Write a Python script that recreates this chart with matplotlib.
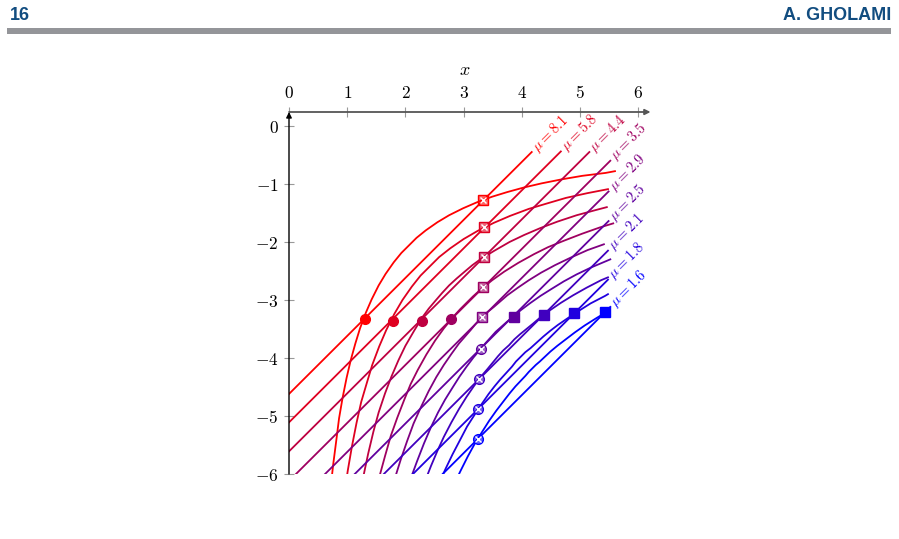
import numpy as np
import matplotlib
matplotlib.use("Agg")
import matplotlib.pyplot as plt
from matplotlib.patches import Rectangle

plt.rcParams['mathtext.fontset'] = 'cm'

mu_values = [8.1, 5.8, 4.4, 3.5, 2.9, 2.5, 2.1, 1.8, 1.6]

# straight lines (start / end points)
line_x0 = [0.0, 0.0, 0.0, 0.12, 0.62, 1.13, 1.63, 2.13, 2.64]
line_y0 = [-4.62, -5.11, -5.61, -6.0, -6.0, -6.0, -6.0, -6.0, -6.0]
line_x1 = [4.17, 4.67, 5.16, 5.52, 5.49, 5.49, 5.48, 5.48, 5.52]
line_y1 = [-0.45, -0.44, -0.45, -0.60, -1.13, -1.64, -2.15, -2.65, -3.12]

# curved branches
curve_x = [
    [0.71, 0.76, 0.81, 0.86, 0.92, 0.99, 1.06, 1.14, 1.22, 1.32, 1.42, 1.54, 1.66, 1.80, 1.93,
     2.06, 2.19, 2.35, 2.55, 2.75, 2.99, 3.22, 3.49, 3.75, 4.04, 4.34, 4.69, 5.04, 5.44, 5.60],
    [0.94, 1.01, 1.08, 1.16, 1.24, 1.34, 1.43, 1.55, 1.67, 1.81, 1.95, 2.11, 2.26,
     2.42, 2.58, 2.77, 3.00, 3.24, 3.52, 3.80, 4.12, 4.42, 4.76, 5.12, 5.48],
    [1.20, 1.28, 1.36, 1.45, 1.54, 1.65, 1.76, 1.88, 2.00, 2.15, 2.29, 2.40, 2.51, 2.63,
     2.75, 2.88, 3.02, 3.15, 3.30, 3.53, 3.79, 4.04, 4.32, 4.61, 4.94, 5.27, 5.46],
    [1.47, 1.56, 1.65, 1.75, 1.86, 1.98, 2.09, 2.21, 2.36, 2.51, 2.66, 2.84, 2.94,
     3.05, 3.16, 3.27, 3.49, 3.70, 3.94, 4.21, 4.45, 4.72, 5.03, 5.34, 5.57],
    [1.72, 1.82, 1.92, 2.03, 2.14, 2.27, 2.40, 2.53, 2.66, 2.79, 2.92, 3.12,
     3.21, 3.31, 3.41, 3.52, 3.75, 3.93, 4.12, 4.33, 4.57, 4.84, 5.13, 5.41],
    [1.99, 2.09, 2.20, 2.32, 2.44, 2.56, 2.68, 2.81, 2.93, 3.05, 3.17, 3.38,
     3.47, 3.55, 3.64, 3.74, 3.99, 4.15, 4.32, 4.51, 4.72, 4.94, 5.19, 5.52],
    [2.22, 2.33, 2.44, 2.55, 2.66, 2.79, 2.92, 3.05, 3.18, 3.29, 3.41, 3.59,
     3.68, 3.78, 3.87, 3.97, 4.19, 4.33, 4.48, 4.67, 4.88, 5.11, 5.36, 5.48],
    [2.46, 2.57, 2.69, 2.81, 2.93, 3.06, 3.20, 3.32, 3.43, 3.53, 3.63, 3.83,
     3.90, 3.98, 4.06, 4.15, 4.37, 4.49, 4.62, 4.78, 4.96, 5.18, 5.43, 5.48],
    [2.70, 2.82, 2.95, 3.07, 3.19, 3.32, 3.44, 3.56, 3.69, 3.79, 3.89, 4.06,
     4.12, 4.18, 4.24, 4.31, 4.49, 4.61, 4.74, 4.91, 5.08, 5.27, 5.50],
]
curve_y = [
    [-6.28, -5.83, -5.44, -5.04, -4.69, -4.34, -4.04, -3.75, -3.49, -3.22, -2.99, -2.75, -2.55, -2.35, -2.19,
     -2.06, -1.93, -1.80, -1.66, -1.54, -1.42, -1.32, -1.22, -1.14, -1.06, -0.99, -0.92, -0.86, -0.81, -0.78],
    [-6.41, -5.94, -5.53, -5.12, -4.76, -4.42, -4.12, -3.80, -3.52, -3.24, -3.00, -2.77, -2.58,
     -2.42, -2.26, -2.11, -1.95, -1.81, -1.67, -1.55, -1.43, -1.34, -1.24, -1.16, -1.09],
    [-6.45, -6.03, -5.65, -5.27, -4.94, -4.61, -4.32, -4.04, -3.79, -3.53, -3.30, -3.15, -3.02, -2.88,
     -2.75, -2.63, -2.51, -2.40, -2.29, -2.15, -2.00, -1.88, -1.76, -1.65, -1.54, -1.45, -1.40],
    [-6.40, -6.02, -5.69, -5.34, -5.03, -4.72, -4.45, -4.21, -3.94, -3.70, -3.49, -3.27, -3.16,
     -3.05, -2.94, -2.84, -2.66, -2.51, -2.36, -2.21, -2.09, -1.98, -1.86, -1.75, -1.68],
    [-6.42, -6.07, -5.75, -5.43, -5.13, -4.84, -4.57, -4.33, -4.12, -3.93, -3.75, -3.52,
     -3.41, -3.31, -3.21, -3.12, -2.92, -2.79, -2.66, -2.53, -2.40, -2.27, -2.14, -2.04],
    [-6.41, -6.08, -5.78, -5.47, -5.19, -4.94, -4.72, -4.51, -4.32, -4.15, -3.99, -3.74,
     -3.64, -3.55, -3.47, -3.38, -3.17, -3.05, -2.93, -2.81, -2.68, -2.56, -2.44, -2.30],
    [-6.46, -6.14, -5.86, -5.60, -5.36, -5.11, -4.88, -4.67, -4.48, -4.33, -4.19, -3.97,
     -3.87, -3.78, -3.68, -3.59, -3.41, -3.29, -3.18, -3.05, -2.92, -2.79, -2.66, -2.61],
    [-6.48, -6.18, -5.91, -5.66, -5.43, -5.18, -4.96, -4.78, -4.62, -4.49, -4.37, -4.15,
     -4.06, -3.98, -3.90, -3.83, -3.63, -3.53, -3.43, -3.32, -3.20, -3.06, -2.93, -2.90],
    [-6.49, -6.21, -5.94, -5.70, -5.48, -5.27, -5.08, -4.91, -4.74, -4.61, -4.49, -4.31,
     -4.24, -4.18, -4.12, -4.06, -3.89, -3.79, -3.69, -3.56, -3.44, -3.32, -3.18],
]

# markers
dot_x = [1.30, 1.78, 2.28, 2.79]
dot_y = [-3.33, -3.36, -3.36, -3.33]
sq_x = [3.86, 4.38, 4.90, 5.43]
sq_y = [-3.29, -3.26, -3.23, -3.21]
xsq_x = [3.34, 3.35, 3.35, 3.34, 3.32]
xsq_y = [-1.28, -1.75, -2.26, -2.78, -3.30]
xdot_x = [3.29, 3.27, 3.25, 3.24]
xdot_y = [-3.84, -4.36, -4.88, -5.40]

xticks = [0, 1, 2, 3, 4, 5, 6]
yticks = [0, -1, -2, -3, -4, -5, -6]

n = len(mu_values)
colors = [(1 - k / (n - 1), 0, k / (n - 1)) for k in range(n)]

fig = plt.figure(figsize=(8.99, 5.39), dpi=100)

# page header
head_col = '#124d80'
fig.text(10 / 899, 1 - 15 / 539, "16", color=head_col, fontsize=13,
         fontweight='bold', family='Liberation Sans', va='center', ha='left')
fig.text(891 / 899, 1 - 15 / 539, "A. GHOLAMI", color=head_col, fontsize=13,
         fontweight='bold', family='Liberation Sans', va='center', ha='right')
fig.add_artist(Rectangle((7 / 899, 1 - 33.5 / 539), 884 / 899, 5 / 539,
                         transform=fig.transFigure, color='#949599', lw=0))

ax = fig.add_axes([289 / 899, 1 - 474 / 539, 351 / 899, 362 / 539])
ax.set_xlim(0, 6.03)
ax.set_ylim(-6, 0.24)

for k in range(n):
    c = colors[k]
    ax.plot([line_x0[k], line_x1[k]], [line_y0[k], line_y1[k]], color=c, lw=1.3)
    ax.plot(curve_x[k], curve_y[k], color=c, lw=1.3)
    ax.annotate(r"$\mu{=}%s$" % mu_values[k], (line_x1[k], line_y1[k]),
                xytext=(2, 2), textcoords='offset points', rotation=45,
                rotation_mode='anchor', ha='left', va='center', fontsize=10.5,
                color=c, annotation_clip=False)

for i in range(len(dot_x)):
    ax.plot(dot_x[i], dot_y[i], 'o', color=colors[i], ms=7, zorder=5)
for i in range(len(sq_x)):
    ax.plot(sq_x[i], sq_y[i], 's', color=colors[5 + i], ms=7.5, zorder=5)
for i in range(len(xsq_x)):
    c = colors[i]
    ax.plot(xsq_x[i], xsq_y[i], 's', mfc=c + (0.6,), mec=c, ms=7, mew=1, zorder=5)
    ax.plot(xsq_x[i], xsq_y[i], 'x', color='white', ms=4.5, mew=1, zorder=6)
for i in range(len(xdot_x)):
    c = colors[5 + i]
    ax.plot(xdot_x[i], xdot_y[i], 'o', mfc=c + (0.6,), mec=c, ms=7, mew=1, zorder=5)
    ax.plot(xdot_x[i], xdot_y[i], 'x', color='white', ms=4.5, mew=1, zorder=6)

for s in ax.spines.values():
    s.set_visible(False)

# axis lines with arrows
ax.annotate("", xy=(1.03, 1), xytext=(0, 1), xycoords='axes fraction',
            arrowprops=dict(arrowstyle='-|>', color='#555555', lw=1.3,
                            mutation_scale=8, shrinkA=0, shrinkB=0))
ax.annotate("", xy=(0, 1.0), xytext=(0, 0), xycoords='axes fraction',
            arrowprops=dict(arrowstyle='-|>', color='black', lw=1.0,
                            mutation_scale=8, shrinkA=0, shrinkB=0))

ax.xaxis.tick_top()
ax.xaxis.set_label_position('top')
ax.set_xticks(xticks)
ax.set_xticklabels([r"$%d$" % t for t in xticks])
ax.set_yticks(yticks)
ax.set_yticklabels([r"$%d$" % t if t == 0 else r"$-%d$" % abs(t) for t in yticks])
ax.tick_params(axis='both', direction='inout', length=7, width=0.8,
               colors='#999999', labelcolor='black', labelsize=12.5, pad=4)
ax.set_xlabel(r"$x$", fontsize=13, labelpad=6)

fig.savefig("out.png", dpi=100)
